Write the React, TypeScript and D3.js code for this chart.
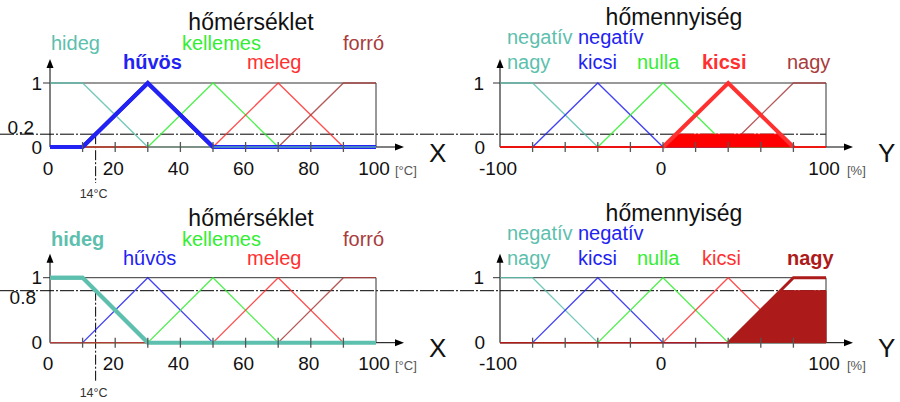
import React from 'react';
import * as d3 from 'd3';

type Pt = [number, number];

// input variable: temperature (hőmérséklet)
const tempNames = ['hideg', 'hűvös', 'kellemes', 'meleg', 'forró'];
const tempSets: Pt[][] = [
    [[0, 1], [10, 1], [30, 0], [100, 0]],
    [[0, 0], [10, 0], [30, 1], [50, 0], [100, 0]],
    [[0, 0], [30, 0], [50, 1], [70, 0], [100, 0]],
    [[0, 0], [50, 0], [70, 1], [90, 0], [100, 0]],
    [[0, 0], [70, 0], [90, 1], [100, 1]],
];
const tempTicks = [0, 20, 40, 60, 80, 100];
const tempMinor = [10, 20, 30, 40, 50, 60, 70, 80, 90];

// output variable: heat quantity (hőmennyiség)
const heatNamesTop = ['negatív', 'negatív', '', '', ''];
const heatNames = ['nagy', 'kicsi', 'nulla', 'kicsi', 'nagy'];
const heatSets: Pt[][] = [
    [[-100, 1], [-80, 1], [-40, 0], [100, 0]],
    [[-100, 0], [-80, 0], [-40, 1], [0, 0], [100, 0]],
    [[-100, 0], [-40, 0], [0, 1], [40, 0], [100, 0]],
    [[-100, 0], [0, 0], [40, 1], [80, 0], [100, 0]],
    [[-100, 0], [40, 0], [80, 1], [100, 1]],
];
const heatTicks = [-100, 0, 100];
const heatMinor = [-80, -60, -40, -20, 0, 20, 40, 60, 80];

// the crisp input and the two fired rules (row 1: hűvös -> kicsi, row 2: hideg -> nagy)
const inputTemp = 14;
const ruleTemp = [1, 0];
const ruleHeat = [3, 4];

const setColors = ['#5dbfae', '#2222f2', '#33ee33', '#ff3030', '#a83c3c'];
const fillColors = ['#ff0000', '#ad1a1a'];
const font = 'Liberation Sans, Arial, sans-serif';

const evalSet = (pts: Pt[], x: number) => {
    for (let i = 0; i < pts.length - 1; i++) {
        const [x0, y0] = pts[i];
        const [x1, y1] = pts[i + 1];
        if (x >= x0 && x <= x1) return y0 + (y1 - y0) * (x - x0) / (x1 - x0);
    }
    return 0;
};

// min(mu(x), level)
const clipAt = (pts: Pt[], level: number) => {
    const out: Pt[] = [];
    for (let i = 0; i < pts.length; i++) {
        const [x0, y0] = pts[i];
        out.push([x0, Math.min(y0, level)]);
        if (i < pts.length - 1) {
            const [x1, y1] = pts[i + 1];
            if ((y0 - level) * (y1 - level) < 0) {
                const t = (level - y0) / (y1 - y0);
                out.push([x0 + t * (x1 - x0), level]);
            }
        }
    }
    return out;
};

// drop the flat zero parts, keep only where the set is non-zero
const support = (pts: Pt[]) =>
    pts.filter((p, i) => p[1] > 0 || (pts[i - 1] && pts[i - 1][1] > 0) || (pts[i + 1] && pts[i + 1][1] > 0));

// layout per row
const rows = [
    { yTop: 83, yBot: 147, titleL: 30, titleR: 25, rowL: [50, 69], rowR: [44, 69], tickY: 175, axisY: 162, cY: 198 },
    { yTop: 277.7, yBot: 342.7, titleL: 225.7, titleR: 220.7, rowL: [245.7, 264.7], rowR: [239.5, 264.7], tickY: 370, axisY: 357, cY: 397 },
];
const tempLabelPos: [number, number][] = [[51, 0], [123, 1], [182, 0], [247, 1], [343, 0]];
const heatLabelPos = [507, 578, 637, 702, 787];

export default function App() {
    const xT = d3.scaleLinear().domain([0, 100]).range([50, 376]);
    const xH = d3.scaleLinear().domain([-100, 100]).range([500, 826]);
    const line = (x: any, y: any) => d3.line<Pt>().x(d => x(d[0])).y(d => y(d[1]));

    return (
        <svg width={900} height={402} style={{ position: 'absolute', left: 0, top: 0, background: '#fff' }}
            fontFamily={font}>
            {rows.map((r, ri) => {
                const y = d3.scaleLinear().domain([0, 1]).range([r.yBot, r.yTop]);
                const ti = ruleTemp[ri];
                const hi = ruleHeat[ri];
                const level = evalSet(tempSets[ti], inputTemp);
                const clipped = clipAt(heatSets[hi], level);
                const area = d3.area<Pt>().x(d => xH(d[0])).y0(y(0)).y1(d => y(d[1]));
                const lt = line(xT, y);
                const lh = line(xH, y);
                const tickLabel = (x: any, t: number, key: string) => (
                    <text key={key} x={x(t) - 2} y={r.tickY} fontSize={19} textAnchor="middle" fill="#111">{t}</text>
                );
                return (
                    <g key={ri}>
                        {/* cut level */}
                        <line x1={0} x2={xH(100)} y1={y(level)} y2={y(level)} stroke="#000" strokeWidth={1}
                            strokeDasharray="14,2,2,2" />
                        <line x1={xT(inputTemp)} x2={xT(inputTemp)} y1={y(level)} y2={r.cY - 15} stroke="#000"
                            strokeWidth={1} strokeDasharray="10,2,2,2" />
                        <text x={xT(inputTemp) - 2} y={r.cY} fontSize={12.5} textAnchor="middle" fill="#333">14°C</text>

                        {/* left: temperature */}
                        <line x1={xT(0)} x2={403 - 7} y1={y(0)} y2={y(0)} stroke="#000" />
                        <path d={`M404,${y(0)} L395,${y(0) - 3.5} L395,${y(0) + 3.5} Z`} fill="#000" />
                        <line x1={xT(0)} x2={xT(0)} y1={y(0)} y2={y(1) - 18} stroke="#000" />
                        <path d={`M${xT(0)},${y(1) - 24} L${xT(0) - 3.5},${y(1) - 15} L${xT(0) + 3.5},${y(1) - 15} Z`} fill="#000" />
                        <line x1={xT(0) - 7} x2={xT(100)} y1={y(1)} y2={y(1)} stroke="#333" />
                        <line x1={xT(100)} x2={xT(100)} y1={y(1)} y2={y(0)} stroke="#333" />
                        {tempSets.map((s, i) => i !== ti && i !== 0 && (
                            <path key={i} d={lt(s) || ''} fill="none" stroke={setColors[i]} strokeWidth={1.3}
                                strokeOpacity={0.85} />
                        ))}
                        <path d={lt(tempSets[ti]) || ''} fill="none" stroke={setColors[ti]} strokeWidth={4} />
                        {ti !== 0 && (
                            <path d={lt(tempSets[0]) || ''} fill="none" stroke={setColors[0]} strokeWidth={1.3}
                                strokeOpacity={0.85} />
                        )}
                        <path d={lt(support(tempSets[ti])) || ''} fill="none" stroke={setColors[ti]} strokeWidth={4} />
                        {tempMinor.map(t => (
                            <line key={t} x1={xT(t)} x2={xT(t)} y1={y(0) - 5} y2={y(0) + 5} stroke="#555" strokeWidth={1.3} />
                        ))}
                        {tempTicks.map(t => tickLabel(xT, t, 't' + t))}
                        <text x={395} y={r.tickY} fontSize={13} fill="#555">[°C]</text>
                        <text x={429} y={r.axisY} fontSize={26} fill="#111">X</text>
                        <text x={42} y={y(1)} fontSize={19} textAnchor="end" dominantBaseline="central" fill="#111">1</text>
                        <text x={42} y={y(0)} fontSize={19} textAnchor="end" dominantBaseline="central" fill="#111">0</text>
                        <text x={ri === 0 ? 34 : 36} y={ri === 0 ? y(level) - 7 : y(level) + 7} fontSize={19}
                            textAnchor="end" dominantBaseline="central" fill="#111">{level.toFixed(1)}</text>
                        <text x={251} y={r.titleL} fontSize={23} textAnchor="middle" fill="#111">hőmérséklet</text>
                        {tempNames.map((n, i) => (
                            <text key={n} x={tempLabelPos[i][0]} y={r.rowL[tempLabelPos[i][1]]} fontSize={20}
                                fontWeight={i === ti ? 'bold' : 'normal'} fill={setColors[i]}>{n}</text>
                        ))}

                        {/* right: heat quantity */}
                        <line x1={xH(-100)} x2={853 - 7} y1={y(0)} y2={y(0)} stroke="#000" />
                        <path d={`M853,${y(0)} L844,${y(0) - 3.5} L844,${y(0) + 3.5} Z`} fill="#000" />
                        <line x1={xH(-100)} x2={xH(-100)} y1={y(0)} y2={y(1) - 18} stroke="#000" />
                        <path d={`M${xH(-100)},${y(1) - 24} L${xH(-100) - 3.5},${y(1) - 15} L${xH(-100) + 3.5},${y(1) - 15} Z`} fill="#000" />
                        <line x1={xH(-100) - 7} x2={xH(100)} y1={y(1)} y2={y(1)} stroke="#333" />
                        <line x1={xH(100)} x2={xH(100)} y1={y(1)} y2={y(0)} stroke="#333" />
                        {heatSets.map((s, i) => (
                            <path key={i} d={lh(s) || ''} fill="none" stroke={setColors[i]} strokeWidth={1.3}
                                strokeOpacity={0.85} />
                        ))}
                        <path d={area(clipped) || ''} fill={fillColors[ri]} stroke={fillColors[ri]} strokeWidth={1} />
                        <path d={lh(support(heatSets[hi])) || ''} fill="none"
                            stroke={ri === 0 ? setColors[hi] : fillColors[ri]} strokeWidth={ri === 0 ? 4 : 3} />
                        {heatMinor.map(t => (
                            <line key={t} x1={xH(t)} x2={xH(t)} y1={y(0) - 5} y2={y(0) + 5} stroke="#555" strokeWidth={1.3} />
                        ))}
                        {heatTicks.map(t => tickLabel(xH, t, 'h' + t))}
                        <text x={847} y={r.tickY} fontSize={13} fill="#555">[%]</text>
                        <text x={878} y={r.axisY} fontSize={26} fill="#111">Y</text>
                        <text x={484} y={y(1)} fontSize={19} textAnchor="end" dominantBaseline="central" fill="#111">1</text>
                        <text x={485} y={y(0)} fontSize={19} textAnchor="end" dominantBaseline="central" fill="#111">0</text>
                        <text x={674} y={r.titleR} fontSize={23} textAnchor="middle" fill="#111">hőmennyiség</text>
                        {heatNames.map((n, i) => (
                            <g key={i}>
                                {heatNamesTop[i] && (
                                    <text x={heatLabelPos[i]} y={r.rowR[0]} fontSize={20} fill={setColors[i]}>{heatNamesTop[i]}</text>
                                )}
                                <text x={heatLabelPos[i]} y={r.rowR[1]} fontSize={20}
                                    fontWeight={i === hi ? 'bold' : 'normal'}
                                    fill={i === hi && ri === 1 ? fillColors[1] : setColors[i]}>{n}</text>
                            </g>
                        ))}
                    </g>
                );
            })}
        </svg>
    );
}
